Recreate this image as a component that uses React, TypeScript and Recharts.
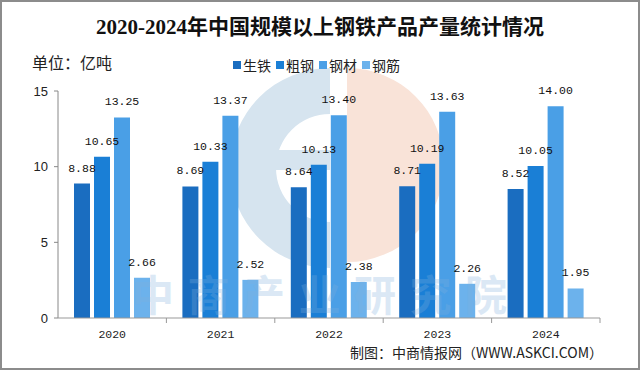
import React from 'react';
import { BarChart, Bar, XAxis, YAxis, LabelList } from 'recharts';

const years = ['2020', '2021', '2022', '2023', '2024'];
const pigIron = [8.88, 8.69, 8.64, 8.71, 8.52];
const crudeSteel = [10.65, 10.33, 10.13, 10.19, 10.05];
const steelProducts = [13.25, 13.37, 13.4, 13.63, 14.0];
const rebar = [2.66, 2.52, 2.38, 2.26, 1.95];
const yTicks = [0, 5, 10, 15];

const seriesNames = ['生铁', '粗钢', '钢材', '钢筋'];
const seriesKeys = ['pig', 'crude', 'products', 'rebar'];
const colors = ['#1a6dc0', '#1a7fd6', '#4a9fe6', '#6cb2ec'];

const data = years.map((y, i) => ({
  year: y,
  pig: pigIron[i],
  crude: crudeSteel[i],
  products: steelProducts[i],
  rebar: rebar[i],
}));

const W = 640;
const H = 370;
const PLOT_LEFT = 58;
const PLOT_RIGHT = 600;
const BAND = (PLOT_RIGHT - PLOT_LEFT) / years.length;

const monoFont = "'Liberation Mono', 'Noto Sans CJK SC', monospace";
const cjkFont = "'Noto Sans CJK SC', 'Liberation Sans', sans-serif";

const XTick = (props: any) => {
  const { x, y, payload } = props;
  return (
    <g>
      <line x1={x + BAND / 2} x2={x + BAND / 2} y1={y} y2={y + 5} stroke="#999" strokeWidth={1} />
      <text x={x} y={y + 20} textAnchor="middle" fontFamily={monoFont} fontSize={11.5} fill="#222">
        {payload.value}
      </text>
    </g>
  );
};

const fmt = (v: any) => Number(v).toFixed(2);

export default function App() {
  return (
    <div style={{ position: 'fixed', left: 0, top: 0, width: W, height: H, background: '#fff', overflow: 'hidden' }}>
      {/* background logo watermark */}
      <svg width={W} height={H} style={{ position: 'absolute', left: 0, top: 0 }}>
        <path
          d="M 330 68 A 100 100 0 0 0 330 268 L 330 222 A 54 54 0 0 1 330 114 Z"
          fill="#d6e4ef"
        />
        <rect x={240} y={150} width={90} height={20} fill="#d6e4ef" />
        <path d="M 347 68 A 97 97 0 0 1 347 262 Z" fill="#f9e3d8" />
      </svg>
      <div
        style={{
          position: 'absolute',
          left: 0,
          top: 10,
          width: W,
          textAlign: 'center',
          fontFamily: "'Liberation Serif', 'Noto Sans CJK SC', serif",
          fontWeight: 'bold',
          fontSize: 21,
          color: '#111',
        }}
      >
        2020-2024年中国规模以上钢铁产品产量统计情况
      </div>
      <div style={{ position: 'absolute', left: 32, top: 50, fontFamily: cjkFont, fontSize: 16, color: '#222' }}>
        单位：亿吨
      </div>
      <div
        style={{
          position: 'absolute',
          top: 55,
          left: 233,
          display: 'flex',
          alignItems: 'center',
          fontFamily: cjkFont,
          fontSize: 14,
          color: '#222',
        }}
      >
        {seriesNames.map((n, i) => (
          <div key={n} style={{ display: 'flex', alignItems: 'center', marginRight: 5 }}>
            <span style={{ display: 'inline-block', width: 8, height: 8, background: colors[i], marginRight: 2 }} />
            <span>{n}</span>
          </div>
        ))}
      </div>
      <div style={{ position: 'absolute', left: 0, top: 0 }}>
        <BarChart
          width={W}
          height={H}
          data={data}
          margin={{ top: 91, right: W - PLOT_RIGHT, bottom: 22, left: 8 }}
          barSize={16}
          barGap={4}
        >
          <YAxis
            width={50}
            domain={[0, 15]}
            ticks={yTicks}
            interval={0}
            axisLine={{ stroke: '#888' }}
            tickLine={{ stroke: '#888' }}
            tickSize={4}
            tickMargin={6}
            tick={{ fill: '#222', fontSize: 13, fontFamily: "'Liberation Sans', sans-serif" }}
          />
          <XAxis
            dataKey="year"
            height={30}
            axisLine={{ stroke: '#999' }}
            tickLine={false}
            tickSize={0}
            tickMargin={0}
            interval={0}
            tick={<XTick />}
          />
          {seriesKeys.map((k, i) => (
            <Bar key={k} dataKey={k} name={seriesNames[i]} fill={colors[i]} isAnimationActive={false}>
              <LabelList
                dataKey={k}
                position="top"
                offset={12}
                formatter={fmt}
                style={{ fontFamily: monoFont, fontSize: 11.5, fill: '#111' }}
              />
            </Bar>
          ))}
        </BarChart>
      </div>
      {/* foreground text watermark */}
      <svg width={W} height={H} style={{ position: 'absolute', left: 0, top: 0, pointerEvents: 'none' }}>
        <text
          x={132}
          y={311}
          fontFamily={cjkFont}
          fontSize={42}
          fontWeight="bold"
          textLength={375}
          lengthAdjust="spacing"
          fill="#7fb0dc"
          opacity={0.28}
        >
          中商产业研究院
        </text>
      </svg>
      <div
        style={{
          position: 'absolute',
          right: 37,
          top: 342,
          fontFamily: cjkFont,
          fontSize: 14,
          color: '#222',
        }}
      >
        制图：中商情报网（WWW.ASKCI.COM）
      </div>
      <div
        style={{
          position: 'absolute',
          left: 0,
          top: 0,
          width: W,
          height: H,
          boxSizing: 'border-box',
          border: '2px solid #8c8c8c',
          pointerEvents: 'none',
        }}
      />
    </div>
  );
}
